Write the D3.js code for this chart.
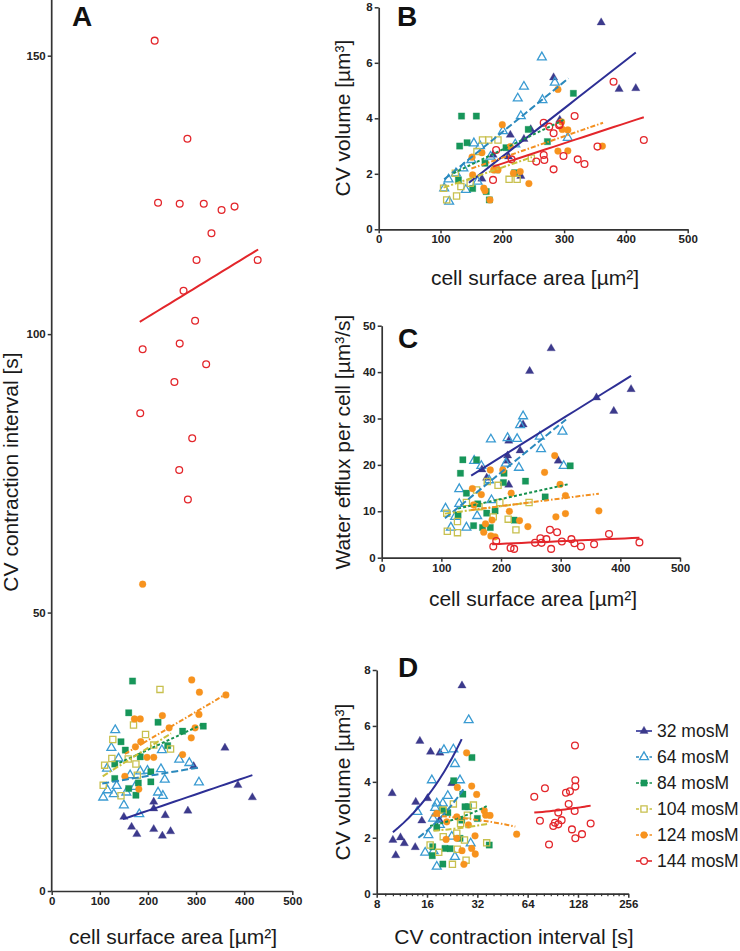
<!DOCTYPE html>
<html><head><meta charset="utf-8">
<script src="https://cdn.jsdelivr.net/npm/d3@7"></script>
<style>
body{margin:0;background:#fff}
svg{display:block}
text{font-family:"Liberation Sans",Arial,Helvetica,sans-serif}
</style>
</head><body>
<svg id="chart" width="740" height="951"></svg>
<script>
// ---------- series ----------
const seriesNames = ["32 mosM","64 mosM","84 mosM","104 mosM","124 mosM","144 mosM"];

// ---------- Panel A: cell surface area [µm²] vs CV contraction interval [s] ----------
const A32  = [[360,25.7],[295,22.4],[387,19.0],[417,16.8],[212,16.0],[212,14.8],[283,14.4],[236,13.6],[150,13.3],[166,11.5],[177,10.2],[212,11.1],[247,10.7],[230,9.9]];
const A64  = [[132,28.9],[124,25.7],[139,23.8],[115,22.0],[229,25.3],[265,23.6],[286,23.0],[227,21.9],[235,20.0],[306,19.5],[221,17.7],[231,17.1],[107,16.8],[116,18.1],[129,17.4],[155,17.7],[150,15.4],[182,13.8],[163,20.8],[173,18.7],[184,21.5],[199,21.6],[135,18.9]];
const A84  = [[168,37.7],[160,32.0],[221,30.3],[144,26.8],[153,25.3],[272,28.7],[315,29.6],[241,26.1],[131,22.8],[206,21.4],[206,19.6],[131,20.2],[160,18.4],[175,17.2],[180,19.4],[184,24.1]];
const A104 = [[225,36.2],[170,29.8],[195,28.1],[127,27.2],[212,26.2],[247,25.5],[110,22.6],[125,23.8],[159,23.7],[175,22.8],[107,19.0],[144,17.1],[178,20.8]];
const A124 = [[189,55.1],[291,37.9],[307,35.7],[362,35.2],[172,30.9],[184,30.9],[230,31.5],[306,31.7],[244,29.3],[298,29.3],[290,27.5],[185,26.8],[174,25.9],[272,24.5],[198,24.0],[212,24.0],[152,20.6],[181,18.3]];
const A144 = [[214,152.7],[282,135.1],[221,123.6],[266,123.4],[316,123.4],[353,122.3],[380,122.9],[332,118.1],[301,113.3],[428,113.3],[274,107.8],[298,102.4],[189,97.3],[266,98.3],[321,94.6],[255,91.4],[184,85.8],[292,81.3],[265,75.6],[283,70.3]];
const fitA = [[[148,12.9],[417,20.8]],[[105,19.3],[307,22.2]],[[131,22.6],[315,30.0]],[[106,20.6],[248,28.3]],[[152,24.6],[363,35.4]],[[183,102.2],[429,115.2]]];

// ---------- Panel B: cell surface area vs CV volume [µm³] ----------
const B32  = [[360,7.45],[389,5.05],[416,5.08],[283,5.47],[246,3.6],[235,3.25],[213,3.4],[293,3.94],[210,2.62],[230,1.92],[167,1.82],[185,2.68]];
const B64  = [[264,6.2],[235,5.14],[225,4.72],[265,4.66],[285,5.29],[230,4.08],[201,3.54],[221,3.06],[306,3.3],[154,3.1],[164,3.0],[114,1.0],[106,1.48],[113,1.8],[125,2.02],[137,2.2],[141,1.42],[160,1.72],[181,2.62],[150,2.5]];
const B84  = [[134,4.08],[158,4.08],[315,4.9],[242,3.6],[131,3.0],[143,3.12],[206,2.94],[273,3.16],[220,2.04],[129,1.78],[152,1.47],[174,1.36],[179,1.06],[172,2.38],[191,2.14]];
const B104 = [[168,3.22],[178,3.22],[193,3.22],[159,2.8],[247,2.56],[211,1.8],[224,1.8],[126,1.2],[110,1.06],[105,1.48],[133,1.54],[124,2.02],[148,1.66],[189,2.2]];
const B124 = [[290,5.04],[200,3.77],[296,3.87],[297,3.6],[306,3.58],[213,2.98],[151,2.6],[167,2.76],[290,2.82],[306,2.83],[362,3.0],[193,2.14],[186,2.14],[218,2.02],[229,2.08],[243,1.65],[170,1.48],[172,1.39],[180,1.06],[152,1.96]];
const B144 = [[380,5.32],[429,3.22],[354,2.98],[317,4.08],[292,3.75],[276,3.7],[267,3.84],[283,3.46],[299,2.64],[267,2.68],[268,2.5],[255,2.44],[322,2.52],[333,2.35],[283,2.16],[215,2.52],[185,1.78],[190,2.86],[293,3.79]];
const fitB = [[[146,1.68],[416,6.37]],[[106,1.8],[307,5.44]],[[121,2.02],[299,3.94]],[[105,1.5],[248,2.6]],[[150,2.19],[363,3.84]],[[185,2.26],[429,4.04]]];

// ---------- Panel C: cell surface area vs water efflux per cell [µm³/s] ----------
const C32  = [[284,45.1],[248,40.2],[418,36.3],[360,34.5],[389,31.6],[237,28.7],[213,25.2],[232,23.1],[211,22.0],[210,20.9],[296,20.9],[168,19.0],[176,17.2],[213,15.7]];
const C64  = [[237,30.5],[232,28.6],[211,25.8],[183,25.5],[227,25.6],[265,26.1],[267,23.4],[303,27.2],[305,19.8],[230,19.4],[208,20.3],[167,19.8],[155,20.9],[180,16.7],[130,14.8],[107,10.6],[130,11.6],[116,6.5],[142,6.5],[160,9.0],[184,12.4],[123,8.8]];
const C84  = [[136,21.1],[159,21.1],[132,18.2],[205,18.2],[316,19.8],[241,16.5],[204,16.2],[142,13.9],[274,13.1],[222,8.1],[176,9.6],[190,10.1],[154,6.9],[169,6.5],[182,6.5],[128,9.2],[161,11.6]];
const C104 = [[177,16.4],[195,15.6],[159,14.6],[142,11.9],[247,11.9],[198,11.9],[109,9.6],[127,7.8],[110,5.7],[127,5.4],[212,8.3],[225,6.0],[187,8.8],[163,11.0]];
const C124 = [[290,22.0],[273,18.4],[182,18.9],[203,18.9],[299,15.8],[152,14.9],[167,13.6],[217,13.9],[308,13.4],[154,11.4],[214,10.0],[364,10.1],[185,8.1],[231,8.0],[292,8.8],[308,9.5],[245,6.7],[171,5.5],[174,7.3],[183,4.7],[190,4.5]];
const C144 = [[432,3.3],[381,5.1],[282,6.0],[294,5.5],[266,4.2],[268,3.2],[276,4.0],[257,3.2],[302,3.5],[318,4.0],[323,3.1],[334,2.4],[356,2.9],[284,1.9],[192,3.6],[187,2.4],[216,2.1],[222,1.9]];
const fitC = [[[150,17.7],[418,39.2]],[[106,8.5],[309,29.8]],[[128,10.6],[315,15.9]],[[106,9.5],[248,11.9]],[[150,10.3],[364,13.8]],[[185,2.9],[432,4.3]]];

// ---------- Panel D: CV contraction interval [s] (log2) vs CV volume ----------
const D32  = [[25.9,7.44],[14.5,5.46],[16.8,5.07],[19.1,5.04],[9.9,3.59],[13.7,3.28],[16.1,3.41],[14.9,2.61],[13.6,1.66],[10.0,1.92],[11.1,2.01],[11.7,1.80],[10.4,1.37],[22.5,3.95],[19.0,2.63]];
const D64  = [[28.4,6.21],[23.0,5.16],[20.2,5.14],[23.5,4.64],[17.1,4.06],[25.2,4.06],[14.0,2.93],[21.3,3.5],[18.3,3.23],[19.9,3.23],[17.9,3.07],[16.3,2.1],[17.4,2.69],[19.1,2.46],[15.6,1.47],[17.5,1.53],[18.3,0.97],[23.5,1.32],[29.2,1.8],[22.5,2.04]];
const D84  = [[29.7,4.87],[23.1,4.04],[26.2,3.56],[21.3,2.9],[27.0,3.11],[32.0,2.69],[28.3,3.11],[19.8,2.99],[18.3,2.37],[37.7,1.74],[25.8,2.63],[17.3,1.68],[20.5,1.62],[22.0,1.61],[19.9,1.06],[17.2,1.36],[25.2,1.98]];
const D104 = [[23.0,3.21],[30.3,3.17],[27.9,2.81],[20.0,2.99],[25.4,2.51],[36.4,1.82],[16.7,1.74],[18.8,1.48],[22.7,1.05],[27.4,1.2],[24.3,1.59],[26.8,1.92],[20.0,2.04],[24.1,2.16]];
const D124 = [[27.6,5.04],[24.3,3.80],[29.6,3.85],[31.7,3.55],[18.3,2.87],[21.0,2.57],[24.1,2.75],[28.3,2.46],[35.2,2.97],[35.9,2.81],[38.1,2.8],[55.0,2.13],[20.8,1.94],[24.1,1.98],[25.9,1.54],[29.6,1.62],[31.0,2.07],[31.1,1.42],[26.6,1.05]];
const D144 = [[122.8,5.30],[123.4,4.06],[123.4,3.83],[81.2,3.77],[70.1,3.47],[108.5,3.61],[114.6,3.66],[112.6,3.21],[122.3,2.96],[97.6,2.9],[102.2,2.63],[93.2,2.54],[91.1,2.42],[97.6,2.48],[75.8,2.61],[117.8,2.3],[152.4,2.51],[135.3,2.13],[123.4,1.98],[85.9,1.76]];
const fitD = [[[10.0,2.2],[25.8,5.53]],[[14.2,2.0],[26.4,3.73]],[[16.7,2.42],[36.4,3.13]],[[17.5,2.25],[37,2.5]],[[17,2.8],[54,2.4]],[[70.1,2.9],[152.4,3.15]]];

// ---------- tick labels ----------
const ticksA_y = [0,50,100,150];
const ticksArea = [0,100,200,300,400,500];
const ticksVol = [0,2,4,6,8];
const ticksEfflux = [0,10,20,30,40,50];
const ticksInterval = [8,16,32,64,128,256];

// ---------- styles ----------
const colors = ["#3c3a8c","#3a9bd2","#17965a","#c8c04e","#f7931e","#e3262b"];
const lineColors = ["#2d2f95","#2b89bd","#17914f","#c9c03c","#f39020","#e3262b"];
const shapes = ["triangle","triangle","square","square","circle","circle"];
const filled = [true,false,true,false,true,false];
const dashes = [null,"7,3","3,2.2","6,2,2,2","5,2,1.5,2",null];

const svg = d3.select("#chart");
const axisColor = "#333";

function markerPath(shape, isFilled){
  if(shape==="triangle") return d3.symbol(d3.symbolTriangle, isFilled?30:34)();
  if(shape==="square") return d3.symbol(d3.symbolSquare, isFilled?40:38)();
  return d3.symbol(d3.symbolCircle, 36)();
}

function styleAxis(g){
  g.select(".domain").attr("stroke",axisColor).attr("stroke-width",1.7);
  g.selectAll(".tick line").attr("stroke",axisColor).attr("stroke-width",1.5);
  g.selectAll(".tick text").attr("fill","#222").attr("font-size","11.5px").attr("font-weight","bold")
   .attr("font-family","'Liberation Sans',Arial,sans-serif");
}

function drawPanel(cfg){
  const g = svg.append("g");
  const x = cfg.x, y = cfg.y;
  const ax = g.append("g").attr("transform",`translate(0,${y.range()[0]})`)
    .call(d3.axisBottom(x).tickValues(cfg.xTicks).tickSize(4).tickSizeOuter(0).tickPadding(2).tickFormat(d3.format("d")));
  styleAxis(ax);
  if(cfg.xMinor){
    const am = g.append("g").attr("transform",`translate(0,${y.range()[0]})`)
      .call(d3.axisBottom(x).tickValues(cfg.xMinor).tickSize(2.5).tickFormat(""));
    am.select(".domain").remove();
    am.selectAll(".tick line").attr("stroke",axisColor).attr("stroke-width",1.2);
  }
  const ay = g.append("g").attr("transform",`translate(${x.range()[0]},0)`)
    .call(d3.axisLeft(y).tickValues(cfg.yTicks).tickSize(4).tickSizeOuter(0).tickPadding(2).tickFormat(d3.format("d")));
  styleAxis(ay);
  if(cfg.yTop!==undefined){
    ay.select(".domain").attr("d",`M0,${y.range()[0]}V${cfg.yTop}`);
  }
  cfg.data.forEach((pts,i)=>{
    const p = markerPath(shapes[i],filled[i]);
    g.append("g").selectAll("path").data(pts).join("path")
      .attr("d",p)
      .attr("transform",d=>`translate(${x(d[0])},${y(d[1])})`)
      .attr("fill",filled[i]?colors[i]:"none")
      .attr("stroke",colors[i])
      .attr("stroke-width",filled[i]?0.3:1.3);
  });
  const line = d3.line().x(d=>x(d[0])).y(d=>y(d[1]));
  cfg.fits.forEach((f,i)=>{
    const t = d3.range(0,1.0001,0.05);
    const pts = t.map(s=>[f[0][0]+(f[1][0]-f[0][0])*s, f[0][1]+(f[1][1]-f[0][1])*s]);
    g.append("path").datum(pts).attr("d",line)
      .attr("fill","none").attr("stroke",lineColors[i]).attr("stroke-width",2)
      .attr("stroke-dasharray",dashes[i]);
  });
  g.append("text").attr("x",cfg.letterX).attr("y",cfg.letterY).text(cfg.letter)
    .attr("font-size","28px").attr("font-weight","bold").attr("fill","#111");
  g.append("text").attr("x",cfg.xTitleX).attr("y",cfg.xTitleY).attr("text-anchor","middle")
    .attr("font-size","21px").attr("fill","#1a1a1a").text(cfg.xTitle);
  g.append("text").attr("transform",`translate(${cfg.yTitleX},${cfg.yTitleY}) rotate(-90)`)
    .attr("text-anchor","middle").attr("font-size","21px").attr("fill","#1a1a1a").text(cfg.yTitle);
}

const xA = d3.scaleLinear().domain([0,500]).range([51.7,292.3]);
const yA = d3.scaleLinear().domain([0,160]).range([891,0]);
drawPanel({x:xA,y:yA,xTicks:ticksArea,yTicks:ticksA_y,yTop:0,data:[A32,A64,A84,A104,A124,A144],fits:fitA,
  letter:"A",letterX:72,letterY:26,xTitle:"cell surface area [µm²]",xTitleX:173,xTitleY:944,
  yTitle:"CV contraction interval [s]",yTitleX:18,yTitleY:472});

const xB = d3.scaleLinear().domain([0,500]).range([378.7,687.7]);
const yB = d3.scaleLinear().domain([0,8]).range([229.3,7.3]);
drawPanel({x:xB,y:yB,xTicks:ticksArea,yTicks:ticksVol,data:[B32,B64,B84,B104,B124,B144],fits:fitB,
  letter:"B",letterX:397,letterY:26,xTitle:"cell surface area [µm²]",xTitleX:535,xTitleY:285,
  yTitle:"CV volume [µm³]",yTitleX:350,yTitleY:118});

const xC = d3.scaleLinear().domain([0,500]).range([381.7,680]);
const yC = d3.scaleLinear().domain([0,50]).range([557.7,325.7]);
drawPanel({x:xC,y:yC,xTicks:ticksArea,yTicks:ticksEfflux,data:[C32,C64,C84,C104,C124,C144],fits:fitC,
  letter:"C",letterX:398,letterY:348,xTitle:"cell surface area [µm²]",xTitleX:533,xTitleY:606,
  yTitle:"Water efflux per cell [µm³/s]",yTitleX:350,yTitleY:442});

const xD = d3.scaleLog().base(2).domain([8,256]).range([376.7,628.3]);
const yD = d3.scaleLinear().domain([0,8]).range([893.7,670]);
const minorD = [];
[8,16,32,64,128].forEach(b=>{ for(let k=1;k<8;k++) minorD.push(b*(1+k/8)); });
drawPanel({x:xD,y:yD,xTicks:ticksInterval,xMinor:minorD,yTicks:ticksVol,data:[D32,D64,D84,D104,D124,D144],fits:fitD,
  letter:"D",letterX:398,letterY:677,xTitle:"CV contraction interval [s]",xTitleX:514,xTitleY:944,
  yTitle:"CV volume [µm³]",yTitleX:350,yTitleY:782});

// ---------- legend ----------
const leg = svg.append("g");
seriesNames.forEach((n,i)=>{
  const yy = 731 + i*26;
  leg.append("line").attr("x1",636).attr("x2",652).attr("y1",yy).attr("y2",yy)
    .attr("stroke",lineColors[i]).attr("stroke-width",1.6).attr("stroke-dasharray",dashes[i]?"3,1.5":null);
  leg.append("path").attr("d",markerPath(shapes[i],filled[i])).attr("transform",`translate(644,${yy})`)
    .attr("fill",filled[i]?colors[i]:"#fff").attr("stroke",colors[i]).attr("stroke-width",filled[i]?0.3:1.3);
  leg.append("text").attr("x",657).attr("y",yy+6).attr("font-size","17.5px").attr("fill","#1a1a1a").text(n);
});
</script>
</body></html>
